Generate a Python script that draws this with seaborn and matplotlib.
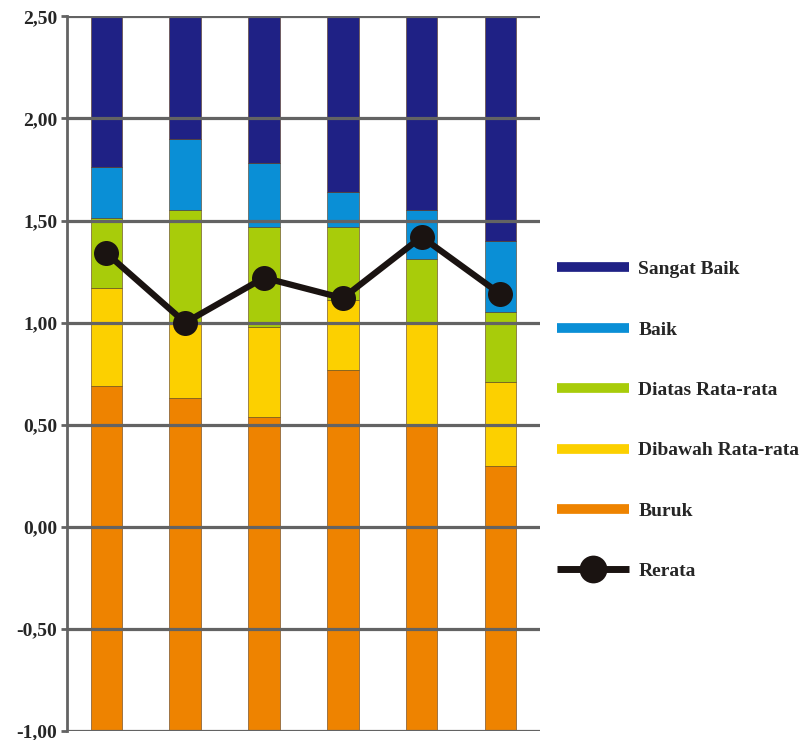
import numpy as np
import pandas as pd
import matplotlib
matplotlib.use("Agg")
import matplotlib.pyplot as plt
from matplotlib.lines import Line2D
from matplotlib.ticker import FuncFormatter, MultipleLocator
import seaborn as sns

# six groups, no x labels shown in the picture
groups = ["1", "2", "3", "4", "5", "6"]

# segment sizes, stacked from the -1,00 base
buruk = [1.69, 1.63, 1.54, 1.77, 1.50, 1.30]
dibawah = [0.48, 0.37, 0.44, 0.34, 0.50, 0.41]
diatas = [0.34, 0.55, 0.49, 0.36, 0.31, 0.34]
baik = [0.25, 0.35, 0.31, 0.17, 0.24, 0.35]
sangat_baik = [0.74, 0.60, 0.72, 0.86, 0.95, 1.10]
rerata = [1.34, 1.00, 1.22, 1.12, 1.42, 1.14]

base = -1.0

layers = [
    ("Buruk", buruk, "#ee8300"),
    ("Dibawah Rata-rata", dibawah, "#fcd000"),
    ("Diatas Rata-rata", diatas, "#a8cc0a"),
    ("Baik", baik, "#0a8fd6"),
    ("Sangat Baik", sangat_baik, "#1f2185"),
]

sns.set_style("white")
plt.rcParams["font.family"] = ["Liberation Serif", "DejaVu Serif"]
plt.rcParams["font.weight"] = "bold"

fig = plt.figure(figsize=(8.08, 7.4), dpi=100)
ax = fig.add_axes([0.083, 0.012, 0.585, 0.966])

bottom = np.full(len(groups), base)
for name, vals, col in layers:
    sns.barplot(x=groups, y=vals, bottom=bottom, color=col, width=0.4,
                edgecolor="#5a3a1a", linewidth=0.4, errorbar=None, ax=ax,
                saturation=1)
    bottom = bottom + np.array(vals)

sns.lineplot(x=groups, y=rerata, color="#1a1311", lw=4.5, marker="o",
             markersize=18, markeredgewidth=0, ax=ax, zorder=4, sort=False)

ax.set_ylim(-1.0, 2.5)
ax.set_xlim(-0.5, 5.5)
ax.yaxis.set_major_locator(MultipleLocator(0.5))
ax.yaxis.set_major_formatter(FuncFormatter(lambda v, p: f"{v:.2f}".replace(".", ",")))
ax.set_axisbelow(False)
ax.grid(axis="y", color="#636363", lw=2.3)
ax.grid(axis="x", visible=False)
ax.set_xticks([])
ax.set_xlabel("")
ax.set_ylabel("")
for s in ["top", "right", "bottom"]:
    ax.spines[s].set_visible(False)
ax.spines["left"].set_color("#636363")
ax.spines["left"].set_linewidth(2)
ax.tick_params(axis="y", left=True, length=4, width=2, color="#636363",
               labelsize=14, pad=3)
for t in ax.get_yticklabels():
    t.set_fontweight("bold")

handles = [Line2D([0], [0], color=c, lw=7, solid_capstyle="butt")
           for _, _, c in layers[::-1]]
labels = [n for n, _, _ in layers[::-1]]
handles.append(Line2D([0], [0], color="#1a1311", lw=5, marker="o",
                      markersize=20, markeredgewidth=0, solid_capstyle="butt"))
labels.append("Rerata")
fig.legend(handles, labels, loc="center left", bbox_to_anchor=(0.689, 0.432),
           frameon=False, handlelength=3.7, handletextpad=0.5,
           labelspacing=2.2, borderpad=0, borderaxespad=0,
           prop={"weight": "bold", "size": 14})

fig.savefig("out.png", dpi=100)
